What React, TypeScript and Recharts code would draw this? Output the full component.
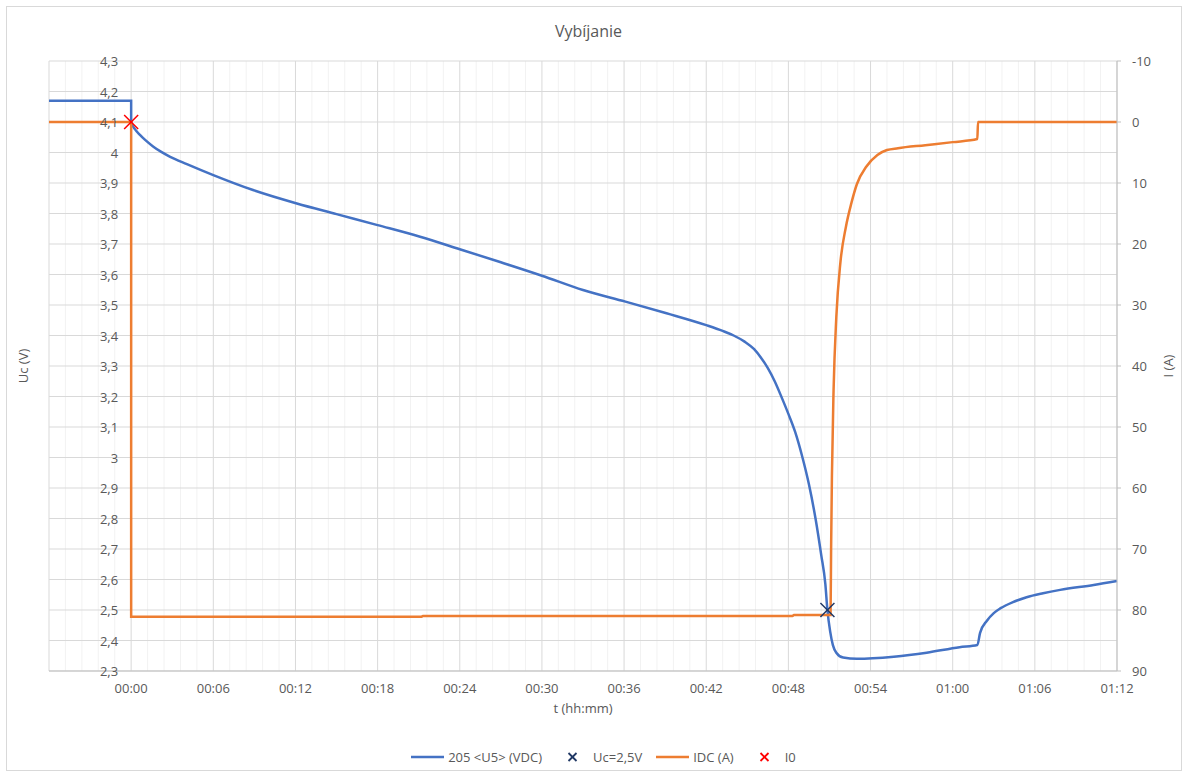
import React from "react";
import {
  CartesianGrid,
  ComposedChart,
  Line,
  Scatter,
  XAxis,
  YAxis,
} from "recharts";

// time in minutes, voltage in V
const voltage = [
  { t: -6, v: 4.17 },
  { t: 0, v: 4.17 },
  { t: 0, v: 4.1 },
  { t: 0.3, v: 4.075 },
  { t: 0.66, v: 4.057 },
  { t: 1.0, v: 4.042 },
  { t: 1.6, v: 4.02 },
  { t: 2.2, v: 4.002 },
  { t: 2.85, v: 3.986 },
  { t: 4.07, v: 3.962 },
  { t: 6.0, v: 3.926 },
  { t: 8.9, v: 3.877 },
  { t: 12.1, v: 3.833 },
  { t: 15.0, v: 3.798 },
  { t: 18.0, v: 3.762 },
  { t: 21.1, v: 3.724 },
  { t: 24.0, v: 3.683 },
  { t: 27.0, v: 3.64 },
  { t: 30.0, v: 3.596 },
  { t: 33.0, v: 3.549 },
  { t: 36.1, v: 3.511 },
  { t: 39.1, v: 3.473 },
  { t: 42.0, v: 3.434 },
  { t: 43.2, v: 3.415 },
  { t: 44.0, v: 3.4 },
  { t: 44.8, v: 3.38 },
  { t: 45.5, v: 3.355 },
  { t: 46.0, v: 3.327 },
  { t: 46.5, v: 3.293 },
  { t: 47.0, v: 3.25 },
  { t: 47.5, v: 3.198 },
  { t: 48.0, v: 3.143 },
  { t: 48.5, v: 3.083 },
  { t: 49.0, v: 3.005 },
  { t: 49.5, v: 2.912 },
  { t: 50.0, v: 2.795 },
  { t: 50.4, v: 2.68 },
  { t: 50.7, v: 2.585 },
  { t: 50.85, v: 2.5 },
  { t: 51.05, v: 2.43 },
  { t: 51.25, v: 2.385 },
  { t: 51.5, v: 2.36 },
  { t: 52.0, v: 2.344 },
  { t: 53.0, v: 2.34 },
  { t: 55.7, v: 2.347 },
  { t: 58.1, v: 2.36 },
  { t: 60.5, v: 2.378 },
  { t: 61.8, v: 2.385 },
  { t: 62.0, v: 2.425 },
  { t: 62.5, v: 2.465 },
  { t: 63.0, v: 2.49 },
  { t: 63.5, v: 2.506 },
  { t: 64.4, v: 2.526 },
  { t: 65.4, v: 2.542 },
  { t: 66.6, v: 2.555 },
  { t: 67.85, v: 2.566 },
  { t: 70.3, v: 2.582 },
  { t: 72.0, v: 2.595 },
];

// time in minutes, current in A
const current = [
  { t: -6, i: 0 },
  { t: 0, i: 0 },
  { t: 0, i: 81.1 },
  { t: 21.2, i: 81.1 },
  { t: 21.3, i: 81.0 },
  { t: 48.3, i: 81.0 },
  { t: 48.4, i: 80.8 },
  { t: 51.08, i: 80.8 },
  { t: 51.12, i: 70 },
  { t: 51.18, i: 58 },
  { t: 51.3, i: 44 },
  { t: 51.5, i: 32 },
  { t: 51.8, i: 23 },
  { t: 52.2, i: 17.2 },
  { t: 52.6, i: 13.3 },
  { t: 53.0, i: 10.2 },
  { t: 53.7, i: 7.3 },
  { t: 54.5, i: 5.4 },
  { t: 55.2, i: 4.6 },
  { t: 56.0, i: 4.3 },
  { t: 58.0, i: 3.8 },
  { t: 60.0, i: 3.3 },
  { t: 61.8, i: 2.8 },
  { t: 61.85, i: 0 },
  { t: 72, i: 0 },
];

const cutoffPoint = [{ t: 50.85, v: 2.5 }];
const startPoint = [{ t: 0, i: 0 }];

const xTicks = [0, 6, 12, 18, 24, 30, 36, 42, 48, 54, 60, 66, 72];
const xMajorLines = [-6, ...xTicks];
const uTicks = [2.3, 2.4, 2.5, 2.6, 2.7, 2.8, 2.9, 3.0, 3.1, 3.2, 3.3, 3.4, 3.5, 3.6, 3.7, 3.8, 3.9, 4.0, 4.1, 4.2, 4.3];
const iTicks = [-10, 0, 10, 20, 30, 40, 50, 60, 70, 80, 90];

const X_MIN = -6;
const X_MAX = 72;
const xMinorLines = Array.from({ length: 66 }, (_, k) => X_MIN + k * 1.2).filter(
  (m) => Math.abs(m / 6 - Math.round(m / 6)) > 0.01
);

const BLUE = "#4472C4";
const ORANGE = "#ED7D31";
const NAVY = "#203864";
const RED = "#FF0000";
const TEXT = "#595959";
const FONT = "'Open Sans', sans-serif";

const W = 1187;
const H = 776;
const LEFT_W = 49;
const RIGHT_W = 70;
const X_H = 105;
const PLOT_W = W - LEFT_W - RIGHT_W;
const AXIS_SHIFT = (PLOT_W * (0 - X_MIN)) / (X_MAX - X_MIN);

const fmtTime = (m: number) => {
  const h = Math.floor(m / 60);
  const mm = Math.round(m - h * 60);
  return `${String(h).padStart(2, "0")}:${String(mm).padStart(2, "0")}`;
};
const fmtU = (v: number) => String(Math.round(v * 10) / 10).replace(".", ",");

const LeftTick = (props: any) => {
  const { x, y, payload } = props;
  return (
    <text x={x + AXIS_SHIFT} y={y} textAnchor="end" dominantBaseline="central" fill={TEXT} fontSize={13} fontFamily={FONT}>
      {fmtU(payload.value)}
    </text>
  );
};

const yTitle = (text: string, dx: number) => (props: any) => {
  const vb = props.viewBox;
  const cx = vb.x + vb.width / 2 + dx;
  const cy = vb.y + vb.height / 2;
  return (
    <text x={cx} y={cy} transform={`rotate(-90 ${cx} ${cy})`} textAnchor="middle" dominantBaseline="central" fill={TEXT} fontSize={13} fontFamily={FONT}>
      {text}
    </text>
  );
};

const XMark = (color: string) => (props: any) => {
  const { cx, cy } = props;
  const r = 7;
  return (
    <g stroke={color} strokeWidth={1.5}>
      <line x1={cx - r} y1={cy - r} x2={cx + r} y2={cy + r} />
      <line x1={cx - r} y1={cy + r} x2={cx + r} y2={cy - r} />
    </g>
  );
};

const legendItems = [
  { name: "205 <U5> (VDC)", kind: "line", color: BLUE },
  { name: "Uc=2,5V", kind: "x", color: NAVY },
  { name: "IDC (A)", kind: "line", color: ORANGE },
  { name: "I0", kind: "x", color: RED },
];

export default function App() {
  return (
    <div style={{ position: "absolute", left: 0, top: 0, width: W, height: H, background: "#fff", fontFamily: FONT }}>
      <div style={{ position: "absolute", left: 6, top: 6, width: 1174, height: 763, border: "1px solid #d9d9d9" }} />
      <div style={{ position: "absolute", left: 0, top: 20, width: W - 10, textAlign: "center", fontSize: 16, color: TEXT }}>
        Vybíjanie
      </div>
      <div style={{ position: "absolute", left: 0, top: 0 }}>
        <ComposedChart width={W} height={H} margin={{ top: 61, right: 0, bottom: 0, left: 0 }}>
          <CartesianGrid xAxisId="t" yAxisId="u" horizontal={false} verticalValues={xMinorLines} stroke="#f2f2f2" />
          <CartesianGrid xAxisId="t" yAxisId="u" verticalValues={xMajorLines} stroke="#d9d9d9" />
          <XAxis
            xAxisId="t"
            dataKey="t"
            type="number"
            domain={[X_MIN, X_MAX]}
            ticks={xTicks}
            interval={0}
            tickFormatter={fmtTime}
            tickLine={false}
            tickSize={0}
            tickMargin={13}
            height={X_H}
            axisLine={{ stroke: "#bfbfbf" }}
            tick={{ fill: TEXT, fontSize: 13, fontFamily: FONT }}
            label={{ value: "t (hh:mm)", position: "insideTop", offset: 33, fill: TEXT, fontSize: 13, fontFamily: FONT }}
          />
          <YAxis
            yAxisId="u"
            type="number"
            domain={[2.3, 4.3]}
            ticks={uTicks}
            interval={0}
            width={LEFT_W}
            axisLine={false}
            tickLine={false}
            tickSize={0}
            tickMargin={13}
            tick={<LeftTick />}
            label={{ content: yTitle("Uc (V)", -2) }}
          />
          <YAxis
            yAxisId="i"
            orientation="right"
            type="number"
            reversed
            domain={[-10, 90]}
            ticks={iTicks}
            interval={0}
            width={RIGHT_W}
            axisLine={{ stroke: "#bfbfbf" }}
            tickLine={{ stroke: "#bfbfbf" }}
            tickSize={4}
            tickMargin={11}
            tick={{ fill: TEXT, fontSize: 13, fontFamily: FONT, textAnchor: "start" }}
            label={{ content: yTitle("I (A)", 16) }}
          />
          <Line
            xAxisId="t"
            yAxisId="u"
            data={voltage}
            dataKey="v"
            type="monotone"
            stroke={BLUE}
            strokeWidth={2.5}
            dot={false}
            activeDot={false}
            isAnimationActive={false}
          />
          <Line
            xAxisId="t"
            yAxisId="i"
            data={current}
            dataKey="i"
            type="monotone"
            stroke={ORANGE}
            strokeWidth={2.5}
            dot={false}
            activeDot={false}
            isAnimationActive={false}
          />
          <Scatter xAxisId="t" yAxisId="u" data={cutoffPoint} dataKey="v" shape={XMark(NAVY)} isAnimationActive={false} />
          <Scatter xAxisId="t" yAxisId="i" data={startPoint} dataKey="i" shape={XMark(RED)} isAnimationActive={false} />
        </ComposedChart>
      </div>
      <div
        style={{
          position: "absolute",
          left: 10,
          top: 748,
          width: W,
          display: "flex",
          justifyContent: "center",
          alignItems: "center",
          gap: 14,
          fontSize: 13,
          color: TEXT,
        }}
      >
        {legendItems.map((it) => (
          <div key={it.name} style={{ display: "flex", alignItems: "center", gap: 4 }}>
            <svg width={33} height={14}>
              {it.kind === "line" ? (
                <line x1={0} y1={7} x2={33} y2={7} stroke={it.color} strokeWidth={2.5} />
              ) : (
                <g stroke={it.color} strokeWidth={1.8}>
                  <line x1={12.5} y1={3} x2={20.5} y2={11} />
                  <line x1={12.5} y1={11} x2={20.5} y2={3} />
                </g>
              )}
            </svg>
            <span>{it.name}</span>
          </div>
        ))}
      </div>
    </div>
  );
}
